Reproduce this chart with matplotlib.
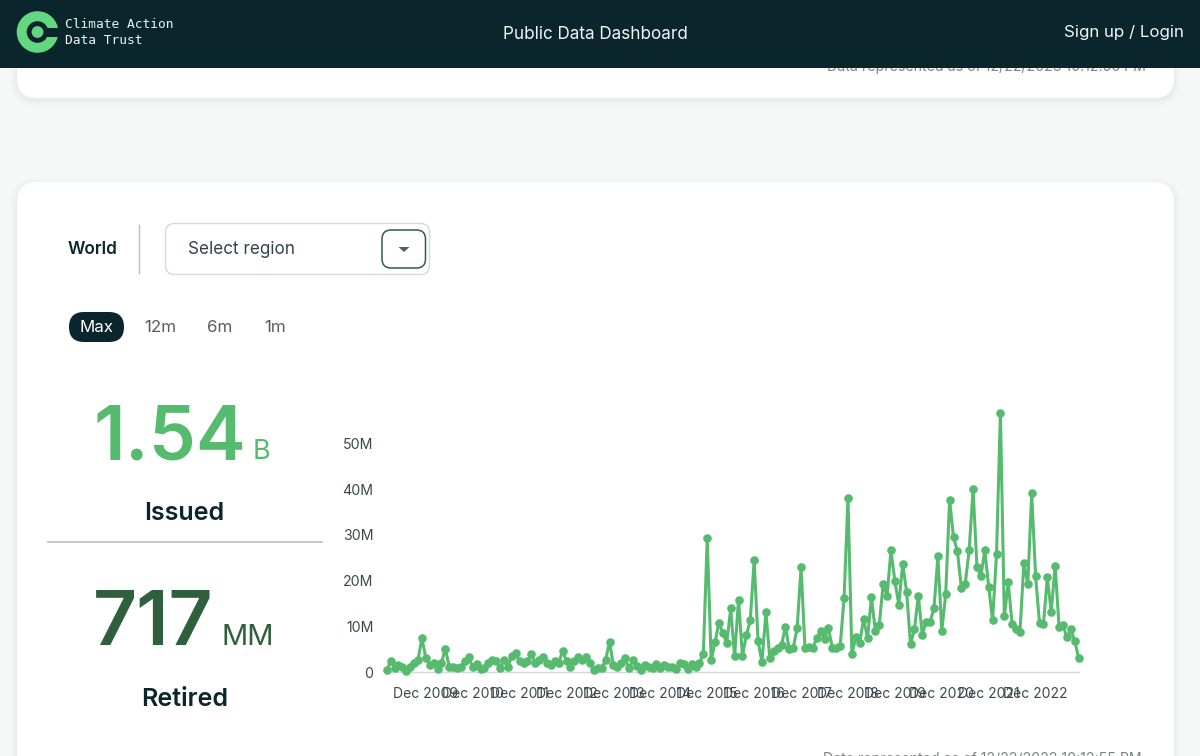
import matplotlib
matplotlib.use("Agg")
import matplotlib.pyplot as plt
from matplotlib.patches import FancyBboxPatch, Rectangle, Circle, Wedge, Polygon

# ---- data ----
issued_monthly_millions = [
    0.4, 2.3, 0.9, 1.6, 1.1, 0.2, 1.2, 2.0, 2.6, 7.4, 3.1, 1.5, 2.0, 0.6, 2.0, 5.1, 1.2, 1.2, 0.8, 1.1,
    2.3, 3.2, 1.1, 1.8, 0.7, 0.8, 2.0, 2.7, 2.3, 0.8, 2.7, 1.1, 3.5, 4.2, 2.3, 2.0, 2.3, 4.0, 2.0, 2.6,
    3.2, 2.0, 1.6, 2.3, 2.0, 4.6, 2.3, 1.1, 2.3, 3.2, 2.6, 3.2, 2.0, 0.4, 0.8, 0.8, 2.6, 6.6, 1.5, 1.1,
    2.0, 3.0, 0.8, 2.6, 1.3, 0.4, 1.5, 1.1, 0.8, 1.8, 0.8, 1.5, 1.1, 1.2, 0.7, 2.0, 1.7, 0.7, 1.8, 1.0,
    2.0, 3.9, 29.3, 2.6, 6.6, 10.8, 8.5, 6.4, 13.9, 3.4, 15.8, 3.6, 8.0, 11.3, 24.4, 6.8, 2.1, 13.1, 3.1, 4.5,
    5.3, 5.9, 9.9, 5.0, 5.3, 9.6, 23.0, 5.3, 5.5, 5.3, 7.4, 9.0, 7.3, 9.6, 5.3, 5.3, 5.6, 16.1, 38.0, 3.9,
    7.6, 6.4, 11.6, 7.4, 16.4, 9.0, 10.2, 19.3, 16.7, 26.6, 19.9, 14.7, 23.6, 17.6, 6.1, 9.3, 16.7, 8.2, 11.0, 11.0,
    13.9, 25.3, 9.0, 17.0, 37.7, 29.5, 26.4, 18.4, 19.3, 26.6, 40.1, 23.0, 21.0, 26.6, 18.7, 11.3, 25.8, 56.7, 12.2, 19.6,
    10.4, 9.3, 8.8, 23.8, 19.3, 39.1, 21.0, 10.7, 10.4, 20.7, 13.1, 23.3, 9.9, 10.2, 7.6, 9.3, 6.8, 3.1,
]
x_tick_months = [10, 22, 34, 46, 58, 70, 82, 94, 106, 118, 130, 142, 154, 166]
x_tick_labels = ["Dec 2009", "Dec 2010", "Dec 2011", "Dec 2012", "Dec 2013", "Dec 2014", "Dec 2015",
                 "Dec 2016", "Dec 2017", "Dec 2018", "Dec 2019", "Dec 2020", "Dec 2021", "Dec 2022"]
y_ticks = [0, 10, 20, 30, 40, 50]
y_tick_labels = ["0", "10M", "20M", "30M", "40M", "50M"]
range_options = ["12m", "6m", "1m"]

W, H = 1200, 756
FONT = "Inter"
DARK = "#0b252d"
GREEN = "#57bb6f"
DKGREEN = "#2f5f3d"
GREY = "#555f63"

fig = plt.figure(figsize=(12, 7.56), dpi=100, facecolor="#f6f8f7")
page = fig.add_axes([0, 0, 1, 1])
page.set_xlim(0, W)
page.set_ylim(H, 0)
page.axis("off")


def card(x0, y0, x1, y1, r=20):
    for grow, alpha in ((7, .008), (5, .01), (3, .012), (1.5, .016)):
        page.add_patch(FancyBboxPatch((x0 - grow, y0 - grow + 2), x1 - x0 + 2 * grow, y1 - y0 + 2 * grow,
                                      boxstyle=f"round,pad=0,rounding_size={r + grow}", fc="black", ec="none",
                                      alpha=alpha, zorder=1))
    page.add_patch(FancyBboxPatch((x0, y0), x1 - x0, y1 - y0, boxstyle=f"round,pad=0,rounding_size={r}",
                                  fc="white", ec="none", zorder=2))


card(17, 20, 1174, 98)
card(17, 182, 1174, 830)

page.text(986.5, 67, "Data represented as of 12/22/2023 10:12:56 PM", fontsize=10.2, family=FONT, color="#7b8285",
          ha="center", va="center", zorder=3)
page.text(982, 759.5, "Data represented as of 12/22/2023 10:12:55 PM", fontsize=10.2, family=FONT, color="#7b8285",
          ha="center", va="center", zorder=3)

# header
page.add_patch(Rectangle((0, 0), W, 68, fc=DARK, ec="none", zorder=5))
page.add_patch(Wedge((37.5, 32), 20.8, 0, 360, width=10, fc="#62d77f", ec="none", zorder=6))
page.add_patch(Rectangle((44, 27.5), 16, 9, fc=DARK, ec="none", zorder=6))
page.add_patch(Circle((37.5, 32), 5.9, fc="#62d77f", ec="none", zorder=7))
page.text(65, 24.5, "Climate Action", fontsize=9.3, family="DejaVu Sans Mono", color="#eaf2ef", va="center", zorder=6)
page.text(65, 41, "Data Trust", fontsize=9.3, family="DejaVu Sans Mono", color="#eaf2ef", va="center", zorder=6)
page.text(595.5, 34.5, "Public Data Dashboard", fontsize=12.3, family=FONT, color="#f2f5f4", ha="center", va="center", zorder=6)
page.text(1124, 33, "Sign up / Login", fontsize=12.2, family=FONT, color="#f2f5f4", ha="center", va="center", zorder=6)

# controls
page.text(93, 250, "World", fontsize=12.3, family=FONT, fontweight="semibold", color=DARK, ha="center", va="center", zorder=3)
page.plot([138.5, 138.5], [225, 273], color="#b9bfc0", lw=1, zorder=3)
page.add_patch(FancyBboxPatch((165.5, 223.5), 264, 51, boxstyle="round,pad=0,rounding_size=9", fc="white",
                              ec="#d4d9d9", lw=1, zorder=3))
page.text(188, 250, "Select region", fontsize=12.3, family=FONT, color="#30444b", va="center", zorder=4)
page.add_patch(FancyBboxPatch((382, 230), 43.5, 38, boxstyle="round,pad=0,rounding_size=9", fc="white",
                              ec="#2f5f3d", lw=1.1, zorder=4))
page.add_patch(Polygon([(398.5, 247), (409.5, 247), (404, 252)], closed=True, fc="#555f63", ec="none", zorder=5))
page.add_patch(FancyBboxPatch((69, 312), 55, 30, boxstyle="round,pad=0,rounding_size=15", fc=DARK, ec="none", zorder=3))
page.text(96.5, 328, "Max", fontsize=12.2, family=FONT, color="white", ha="center", va="center", zorder=4)
for label, cx in zip(range_options, (160, 220, 275)):
    page.text(cx, 328, label, fontsize=12.2, family=FONT, color=GREY, ha="center", va="center", zorder=4)

# headline numbers
page.text(169.5, 459, "1.54", fontsize=54, family=FONT, fontweight="semibold", color=GREEN, ha="center", va="baseline", zorder=3)
page.text(261.5, 459, "B", fontsize=19.5, family=FONT, color=GREEN, ha="center", va="baseline", zorder=3)
page.text(184.5, 520, "Issued", fontsize=18, family=FONT, fontweight="semibold", color=DARK, ha="center", va="baseline", zorder=3)
page.plot([48, 322], [542, 542], color="#b9bfc0", lw=1.2, zorder=3)
page.text(153, 645, "717", fontsize=55, family=FONT, fontweight="semibold", color=DKGREEN, ha="center", va="baseline", zorder=3)
page.text(247.5, 645, "MM", fontsize=21, family=FONT, color=DKGREEN, ha="center", va="baseline", zorder=3)
page.text(184.5, 706, "Retired", fontsize=18, family=FONT, fontweight="semibold", color=DARK, ha="center", va="baseline", zorder=3)

# line chart
AX_L, AX_R, AX_T, AX_B = 386.7, 1078.6, 400, 672
ax = fig.add_axes([AX_L / W, 1 - AX_B / H, (AX_R - AX_L) / W, (AX_B - AX_T) / H], zorder=4)
ax.patch.set_alpha(0)
months = list(range(len(issued_monthly_millions)))
ax.plot(months, issued_monthly_millions, color=GREEN, lw=2.2, marker="o", ms=6.2, mew=0, clip_on=False,
        solid_joinstyle="round", zorder=3)
ax.set_xlim(0, len(months) - 1)
ax.set_ylim(0, 272 / 4.57)
for side in ("top", "left", "right"):
    ax.spines[side].set_visible(False)
ax.spines["bottom"].set_color("#d5d8d8")
ax.spines["bottom"].set_linewidth(1)
ax.set_xticks(x_tick_months, x_tick_labels, fontsize=10, family=FONT, color="#3c484c")
ax.set_yticks(y_ticks, y_tick_labels, fontsize=10.2, family=FONT, color="#3c484c")
ax.tick_params(axis="both", length=0)
ax.tick_params(axis="x", pad=10.7)
ax.tick_params(axis="y", pad=9.5)

fig.savefig("out.png", dpi=100, facecolor=fig.get_facecolor())
